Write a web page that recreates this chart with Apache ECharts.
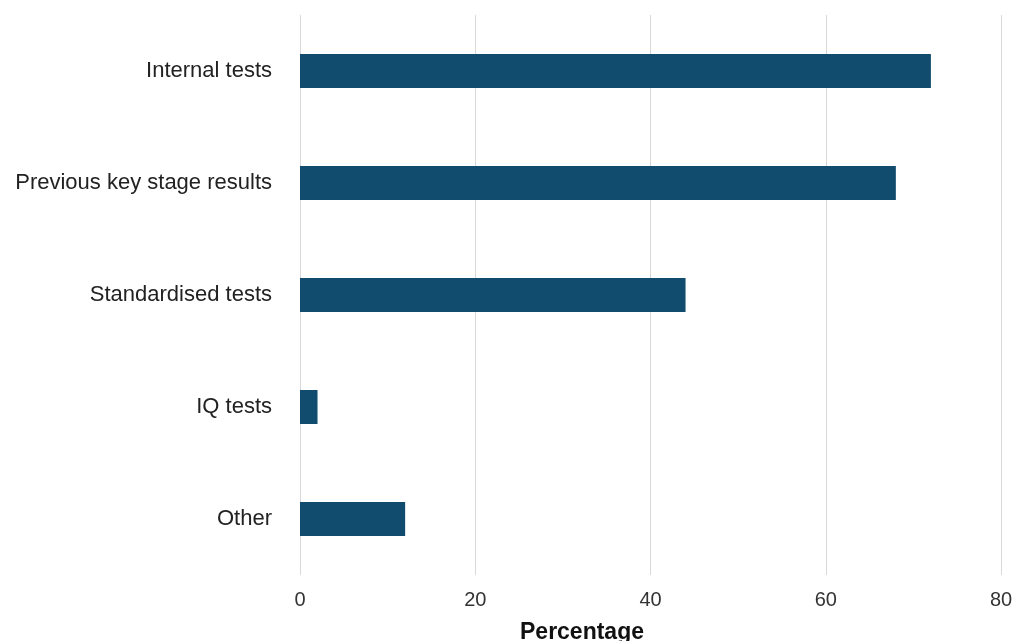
<!DOCTYPE html>
<html>
<head>
<meta charset="utf-8">
<script src="https://cdn.jsdelivr.net/npm/echarts@6/dist/echarts.min.js"></script>
<style>html,body{margin:0;padding:0;background:#fff}#c{width:1016px;height:641px}</style>
</head>
<body>
<div id="c"></div>
<script>
const categories = ["Internal tests", "Previous key stage results", "Standardised tests", "IQ tests", "Other"];
const values = [72, 68, 44, 2, 12];
const xTicks = [0, 20, 40, 60, 80];
const axisTitle = "Percentage";

const chart = echarts.init(document.getElementById('c'), null, {renderer: 'canvas'});
chart.setOption({
  animation: false,
  backgroundColor: '#fff',
  grid: {left: 300, right: 15, top: 15, bottom: 66, containLabel: false},
  title: {
    text: axisTitle, left: 582, top: 621, textAlign: 'center', padding: 0,
    textStyle: {fontFamily: 'Liberation Sans', fontSize: 23, fontWeight: 'bold', color: '#111', lineHeight: 23}
  },
  xAxis: {
    type: 'value', min: xTicks[0], max: xTicks[xTicks.length - 1], interval: 20,
    axisLine: {show: false}, axisTick: {show: false},
    axisLabel: {fontFamily: 'Liberation Sans', fontSize: 20, color: '#333', margin: 15},
    splitLine: {show: true, lineStyle: {color: '#d9d9d9', width: 1}}
  },
  yAxis: {
    type: 'category', data: categories, inverse: true,
    axisLine: {show: false}, axisTick: {show: false},
    axisLabel: {fontFamily: 'Liberation Sans', fontSize: 22, color: '#222', margin: 28}
  },
  series: [{
    type: 'bar', data: values, barWidth: 34,
    itemStyle: {color: '#114b6e'}
  }]
});
</script>
</body>
</html>
